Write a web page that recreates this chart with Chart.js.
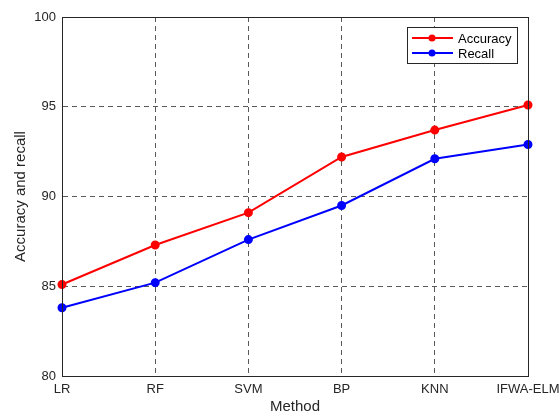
<!doctype html>
<html lang="en">
<head>
<meta charset="utf-8">
<title>Accuracy and recall</title>
<script src="https://cdn.jsdelivr.net/npm/chart.js@4.4.0/dist/chart.umd.min.js"></script>
<style>
  html, body { margin: 0; padding: 0; background: #fff; }
  #wrap { width: 560px; height: 416px; }
</style>
</head>
<body>
<div id="wrap"><canvas id="chart" width="560" height="416"></canvas></div>
<script>
// values
var methods = ['LR', 'RF', 'SVM', 'BP', 'KNN', 'IFWA-ELM'];
var accuracy = [85.1, 87.3, 89.1, 92.2, 93.7, 95.1];
var recall = [83.8, 85.2, 87.6, 89.5, 92.1, 92.9];
var yTicks = [80, 85, 90, 95, 100];

var FONT = 'Arial, "Liberation Sans", sans-serif';

// box round the plot area, like matlab
var boxPlugin = {
  id: 'box',
  afterDraw: function (chart) {
    var a = chart.chartArea, ctx = chart.ctx;
    ctx.save();
    ctx.strokeStyle = '#262626';
    ctx.lineWidth = 1;
    ctx.strokeRect(a.left + 0.5, a.top + 0.5, a.right - a.left, a.bottom - a.top);
    ctx.restore();
  }
};

// legend inside top right corner
var legendPlugin = {
  id: 'insideLegend',
  afterDraw: function (chart) {
    var ctx = chart.ctx, a = chart.chartArea;
    var x = a.right - 121, y = a.top + 10, w = 110, h = 36;
    ctx.save();
    ctx.fillStyle = '#fff';
    ctx.fillRect(x, y, w, h);
    ctx.strokeStyle = '#262626';
    ctx.lineWidth = 1;
    ctx.strokeRect(x + 0.5, y + 0.5, w, h);
    ctx.font = '13px ' + FONT;
    ctx.textBaseline = 'middle';
    chart.data.datasets.forEach(function (ds, i) {
      var cy = y + 11 + i * 15;
      ctx.strokeStyle = ds.borderColor;
      ctx.lineWidth = 2;
      ctx.beginPath();
      ctx.moveTo(x + 5, cy);
      ctx.lineTo(x + 46, cy);
      ctx.stroke();
      ctx.fillStyle = ds.borderColor;
      ctx.beginPath();
      ctx.arc(x + 25, cy, 3.5, 0, Math.PI * 2);
      ctx.fill();
      ctx.fillStyle = '#000';
      ctx.fillText(ds.label, x + 51, cy + 1);
    });
    ctx.restore();
  }
};

var ctx = document.getElementById('chart').getContext('2d');
new Chart(ctx, {
  type: 'line',
  data: {
    labels: methods,
    datasets: [
      { label: 'Accuracy', data: accuracy, borderColor: '#ff0000', backgroundColor: '#ff0000',
        borderWidth: 2, pointRadius: 3.5, pointHoverRadius: 3.5, tension: 0 },
      { label: 'Recall', data: recall, borderColor: '#0000ff', backgroundColor: '#0000ff',
        borderWidth: 2, pointRadius: 3.5, pointHoverRadius: 3.5, tension: 0 }
    ]
  },
  options: {
    responsive: false,
    animation: false,
    layout: { padding: { top: 17, right: 32, left: 12, bottom: 0 } },
    plugins: { legend: { display: false }, tooltip: { enabled: false } },
    scales: {
      x: {
        offset: false,
        grid: { color: 'rgba(0,0,0,0.65)', tickLength: 0, drawTicks: false },
        border: { display: true, color: '#262626', dash: [5, 4] },
        ticks: { color: '#262626', font: { family: FONT, size: 13 }, padding: 6, maxRotation: 0, autoSkip: false },
        title: { display: true, text: 'Method', color: '#262626', font: { family: FONT, size: 15 }, padding: { top: 0, bottom: 0 } },
        afterFit: function (s) { s.height = 40; s.paddingLeft = 0; s.paddingRight = 0; }
      },
      y: {
        min: 80, max: 100,
        afterBuildTicks: function (s) { s.ticks = yTicks.map(function (v) { return { value: v }; }); },
        grid: { color: 'rgba(0,0,0,0.65)', tickLength: 0, drawTicks: false },
        border: { display: true, color: '#262626', dash: [5, 4] },
        ticks: { color: '#262626', font: { family: FONT, size: 13 }, padding: 6 },
        title: { display: true, text: 'Accuracy and recall', color: '#262626', font: { family: FONT, size: 15 }, padding: { top: 0, bottom: 4 } },
        afterFit: function (s) { s.width = 50; s.paddingTop = 0; s.paddingBottom = 0; }
      }
    }
  },
  plugins: [boxPlugin, legendPlugin]
});
</script>
</body>
</html>
